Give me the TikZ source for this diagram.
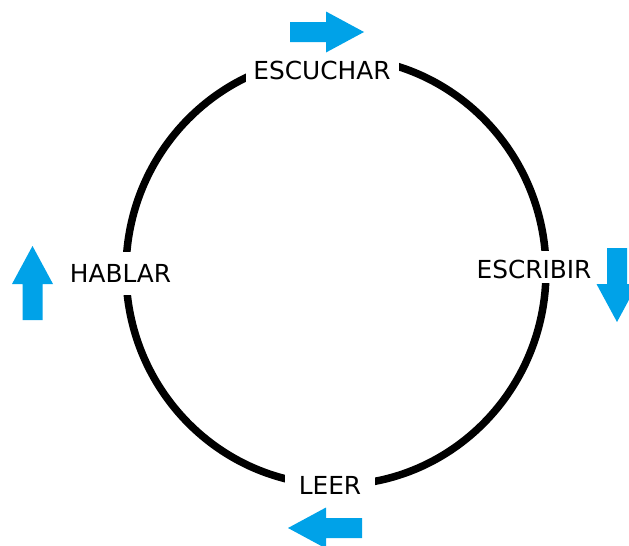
\documentclass[tikz,border=0pt]{standalone}
\usepackage{fontspec}
\setmainfont{DejaVu Sans}
\definecolor{paintblue}{RGB}{0,162,232}
\tikzset{
  blockarrow/.pic={
    \fill[paintblue] (0,-10) -- (36,-10) -- (36,-20.5) -- (74,0) -- (36,20.5) -- (36,10) -- (0,10) -- cycle;
  },
  ring/.style={draw=black, line width=7.5pt},
  lbl/.style={fill=white, inner sep=0pt, text=black, font=\fontsize{24.8}{28}\selectfont, align=center}
}
\begin{document}
\begin{tikzpicture}[x=1pt, y=-1pt]
  \useasboundingbox[fill=white] (0,0) rectangle (629,546);
  \draw[ring] (336,271) ellipse [x radius=210, y radius=214];
  \node[lbl, minimum width=153pt, text height=30pt, text depth=12pt] (escuchar) at (322,70) {ESCUCHAR};
  \node[lbl, minimum width=110pt, text height=30pt, text depth=13pt] (hablar) at (120.5,273.5) {HABLAR};
  \node[lbl, minimum width=125pt, text height=27pt, text depth=5pt] (escribir) at (534,267) {ESCRIBIR};
  \node[lbl, minimum width=90pt, text height=29pt, text depth=11pt] (leer) at (330,485) {LEER};
  \pic at (290,32) {blockarrow};
  \pic[rotate=90] at (32.5,320) {blockarrow};
  \pic[rotate=-90] at (617,248) {blockarrow};
  \pic[rotate=180] at (362,528) {blockarrow};
\end{tikzpicture}
\end{document}
